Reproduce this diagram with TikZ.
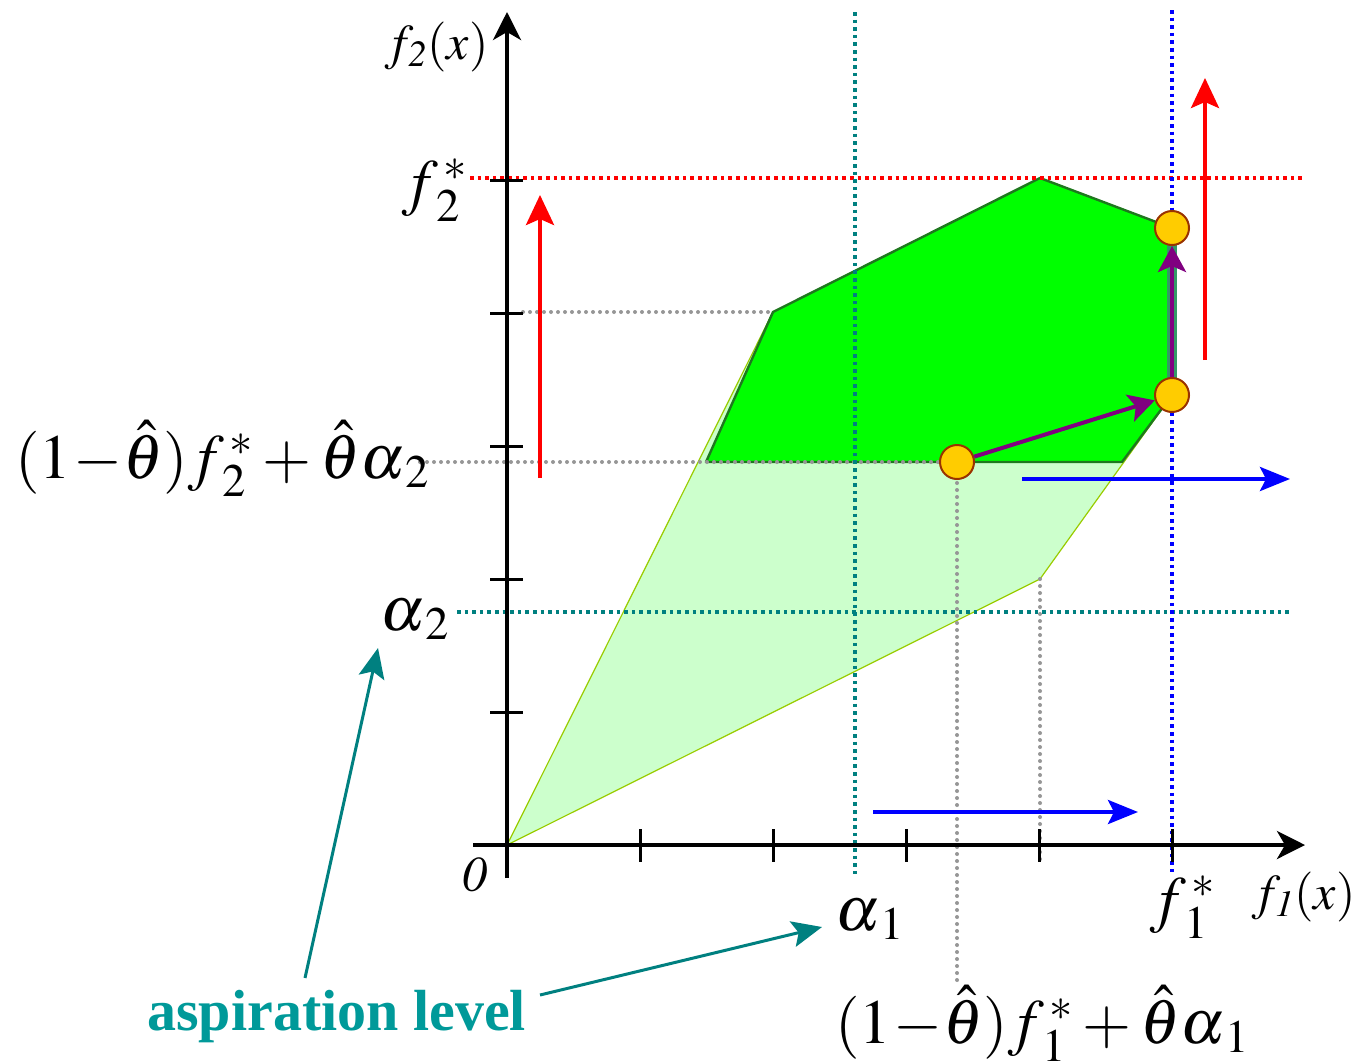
\documentclass[tikz,border=0pt]{standalone}
\usepackage{mathptmx}
\usepackage{fontspec}
\setmainfont{Liberation Serif}
\usetikzlibrary{arrows.meta}
\definecolor{tealA}{RGB}{0,128,128}
\definecolor{tealT}{RGB}{0,153,153}
\definecolor{dkgreen}{RGB}{30,120,30}
\definecolor{ltgreen}{RGB}{204,255,204}
\definecolor{ltedge}{RGB}{153,204,0}
\definecolor{brgreen}{RGB}{0,255,0}
\definecolor{seag}{RGB}{51,153,102}
\definecolor{gold}{RGB}{255,204,0}
\definecolor{brownb}{RGB}{153,51,0}
\definecolor{purp}{RGB}{128,0,128}
\definecolor{graycol}{RGB}{150,150,150}
\tikzset{
  axisline/.style={line width=2pt,-{Stealth[length=14pt,width=14pt,inset=4pt]}},
  tickmark/.style={line width=1.5pt},
  dotl/.style={line width=1.8pt,dash pattern=on 1.8pt off 2pt},
  graydot/.style={draw=graycol,line cap=round,dash pattern=on 0pt off 3.5pt,line width=2pt},
  redarr/.style={red,line width=2pt,-{Stealth[length=15pt,width=14pt,inset=3pt]}},
  bluearr/.style={blue,line width=2pt,-{Stealth[length=15pt,width=12pt,inset=3pt]}},
  purparr/.style={purp,line width=2pt,-{Stealth[length=13pt,width=14pt,inset=3pt]}},
  tealarr/.style={tealA,line width=1.5pt,-{Stealth[length=15pt,width=13pt,inset=3pt]}},
  solpt/.style={circle,fill=gold,draw=brownb,line width=1pt,minimum size=17pt,inner sep=0pt},
  lbl/.style={inner sep=0pt,anchor=base west},
  bigm/.style={lbl,font=\fontsize{31.5}{38}\selectfont},
  smallm/.style={lbl,font=\fontsize{25}{30}\selectfont},
}
\begin{document}
\begin{tikzpicture}[x=0.5pt,y=-0.5pt]
\useasboundingbox (0,0) rectangle (1353,1060);
% regions
\fill[ltgreen,draw=ltedge,line width=0.6pt] (507,845) -- (773,312) -- (1040,178) -- (1172,228) -- (1172,395) -- (1040,579) -- cycle;
\fill[brgreen,draw=dkgreen,line width=1.2pt,line join=round] (706,462) -- (773,312) -- (1040,178) -- (1172,228) -- (1172,395) -- (1122,462) -- cycle;
% guide lines
\draw[graydot] (523,312) -- (773,312);
\draw[graydot] (420,462) -- (957,462);
\draw[graydot] (957,462) -- (957,985);
\draw[graydot] (1040,579) -- (1040,860);
\draw[dotl,red] (470,178) -- (1305,178);
\draw[dotl,tealA] (457,612) -- (1290,612);
\draw[dotl,tealA] (855,12) -- (855,878);
\draw[dotl,blue] (1172,10) -- (1172,875);
% axes
\draw[axisline] (473,845) -- (1305,845);
\draw[axisline] (507,878) -- (507,12);
\foreach \i in {1,...,5} {
  \draw[tickmark] (507+133*\i,829) -- (507+133*\i,862);
  \draw[tickmark] (490,845-133*\i) -- (523,845-133*\i);
}
% highlighted edge
\draw[seag,line width=5pt] (1172,228) -- (1172,395);
% arrows
\draw[redarr] (540,478) -- (540,195);
\draw[redarr] (1205,360) -- (1205,78);
\draw[bluearr] (1022,479) -- (1290,479);
\draw[bluearr] (873,812) -- (1138,812);
% solution points
\node[solpt] (p1) at (957,462) {};
\node[solpt] (p2) at (1172,395) {};
\node[solpt] (p3) at (1172,228) {};
\draw[purparr] (p1) -- (p2);
\draw[purparr] (p2) -- (p3);
% labels
\node[smallm] (f2x) at (385,59) {$f_{\mathit{2}}(x)$};
\node[smallm] (f1x) at (1252,909) {$f_{\mathit{1}}(x)$};
\node[smallm] (zero) at (462,891) {$\mathit{0}$};
\node[bigm] (f2s) at (402,203) {$f_{\,2}^{\,*}$};
\node[bigm] (f1s) at (1150,920) {$f_{\,1}^{\,*}$};
\node[bigm] (a2) at (380,630) {$\alpha_{\,2}$};
\node[bigm] (a1) at (835,930) {$\alpha_{\,1}$};
\node[bigm] (c2) at (15,478) {$(1\!-\!\hat{\theta})f_{\,2}^{\,*}+\hat{\theta}\alpha_{\,2}$};
\node[bigm] (c1) at (835,1043) {$(1\!-\!\hat{\theta})f_{\,1}^{\,*}+\hat{\theta}\alpha_{\,1}$};
\node[lbl,font=\fontsize{29}{34}\selectfont\bfseries,text=tealT] (asp) at (147,1030) {aspiration level};
\coordinate (s1) at (305,978);
\coordinate (s2) at (540,995);
\coordinate (t2) at (378,648);
\coordinate (t1) at (822,927);
\draw[tealarr] (s1) -- (t2);
\draw[tealarr] (s2) -- (t1);
\end{tikzpicture}
\end{document}
